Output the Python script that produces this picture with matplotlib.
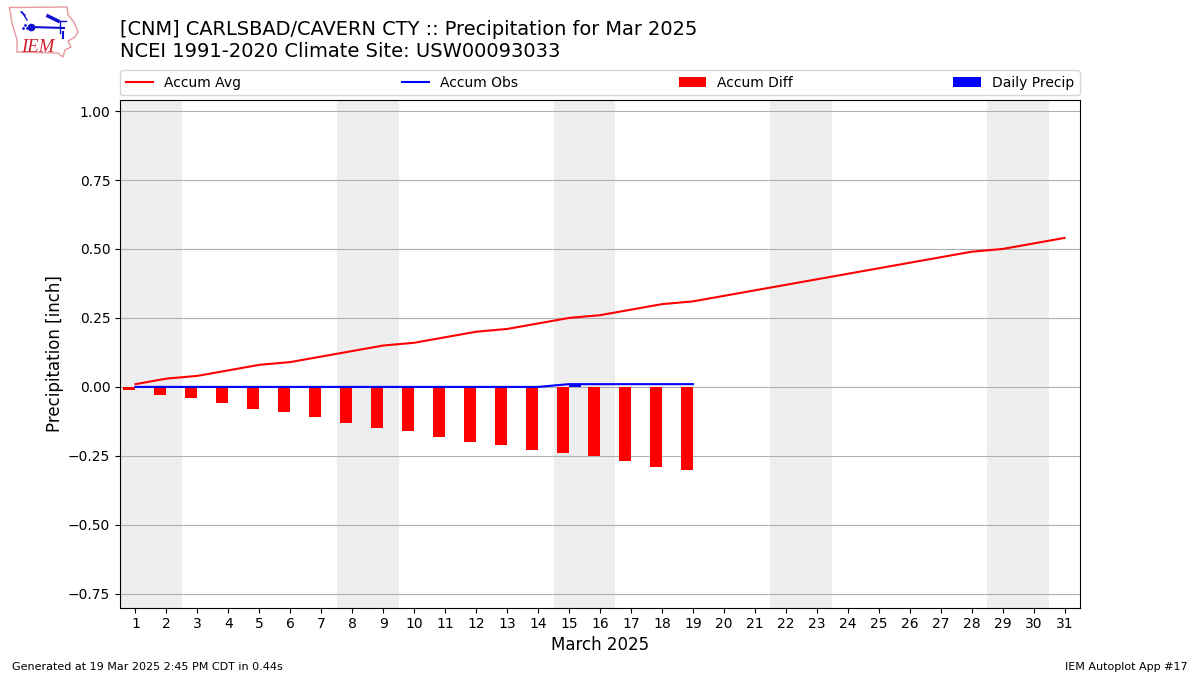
import matplotlib
matplotlib.use("Agg")
import matplotlib.pyplot as plt

days = list(range(1, 32))
avg = [0.01, 0.03, 0.04, 0.06, 0.08, 0.09, 0.11, 0.13, 0.15, 0.16, 0.18, 0.20, 0.21, 0.23, 0.25, 0.26,
       0.28, 0.30, 0.31, 0.33, 0.35, 0.37, 0.39, 0.41, 0.43, 0.45, 0.47, 0.49, 0.50, 0.52, 0.54]
obs_days = list(range(1, 20))
obs = [0, 0, 0, 0, 0, 0, 0, 0, 0, 0, 0, 0, 0, 0, 0.01, 0.01, 0.01, 0.01, 0.01]
diff = [-0.01, -0.03, -0.04, -0.06, -0.08, -0.09, -0.11, -0.13, -0.15, -0.16, -0.18, -0.20, -0.21,
        -0.23, -0.24, -0.25, -0.27, -0.29, -0.30]
daily = [0, 0, 0, 0, 0, 0, 0, 0, 0, 0, 0, 0, 0, 0, 0.01, 0, 0, 0, 0]
weekends = [1, 8, 15, 22, 29]
yticks = [-0.75, -0.5, -0.25, 0, 0.25, 0.5, 0.75, 1.0]

W, H = 1200, 675
fig = plt.figure(figsize=(12, 6.75), dpi=100)
ax = fig.add_axes([120 / W, 1 - 607.6 / H, 960 / W, 507.6 / H])

for d in weekends:
    ax.axvspan(d - 0.5, d + 1.5, color="#eeeeee", lw=0, zorder=0)

ax.plot(days, avg, color="r", lw=1.5, label="Accum Avg", zorder=3)
ax.plot(obs_days, obs, color="b", lw=1.5, label="Accum Obs", zorder=3)
ax.bar(obs_days, diff, width=-0.4, align="edge", color="r", label="Accum Diff", zorder=2)
ax.bar(obs_days, daily, width=0.4, align="edge", color="b", label="Daily Precip", zorder=2)

ax.set_xlim(0.5, 31.5)
ax.set_ylim(-0.80, 1.04)
ax.set_xticks(days)
ax.set_yticks(yticks)
ax.yaxis.grid(True, color="#b0b0b0", lw=0.8)
ax.set_axisbelow(True)
ax.set_xlabel("March 2025", fontsize=12, labelpad=3.5)
ax.set_ylabel("Precipitation [inch]", fontsize=12, labelpad=3)
ax.legend(loc="lower left", bbox_to_anchor=(0, 1.009, 1, 0.05), ncol=4, mode="expand",
          borderaxespad=0, fontsize=10)

fig.text(120 / W, 1 - 35 / H, "[CNM] CARLSBAD/CAVERN CTY :: Precipitation for Mar 2025", fontsize=13.98, va="baseline")
fig.text(120 / W, 1 - 57 / H, "NCEI 1991-2020 Climate Site: USW00093033", fontsize=14, va="baseline")
fig.text(12 / W, 1 - 670 / H, "Generated at 19 Mar 2025 2:45 PM CDT in 0.44s", fontsize=8, va="baseline")
fig.text(1188 / W, 1 - 670 / H, "IEM Autoplot App #17", fontsize=8, ha="right", va="baseline")

# logo, drawn in pixel coords
logo = fig.add_axes([0, 1 - 60 / H, 85 / W, 60 / H])
logo.set_xlim(0, 85)
logo.set_ylim(60, 0)
logo.axis("off")
outline_x = [9.5, 67, 68, 74, 78, 75, 68, 71, 65, 63, 58, 17, 17, 12, 9.5]
outline_y = [7.5, 7, 15, 22, 32, 37, 41, 47, 50, 57, 53, 52, 40, 23, 7.5]
logo.plot(outline_x, outline_y, color="#e59aa0", lw=1)
blue = "#1010d0"
logo.plot([31, 64], [27, 28], color=blue, lw=1.5)
logo.plot([22, 27], [12, 20], color=blue, lw=1)
logo.plot([21, 25], [12, 15], color=blue, lw=1)
logo.plot([60, 60], [21, 33], color=blue, lw=1)
logo.plot([63, 63], [32, 38], color=blue, lw=1.5)
logo.plot([48, 58], [16, 21], color=blue, lw=2.5)
logo.plot([58, 66], [21, 21], color=blue, lw=1)
logo.plot([31], [27], "o", color=blue, ms=4.5)
logo.plot([23, 25, 27], [28, 25, 28], ".", color=blue, ms=2)
logo.text(21, 52, "IEM", color="#d02028", fontsize=13.5, family="Liberation Serif", style="italic", va="baseline")

fig.savefig("out.png", dpi=100)
